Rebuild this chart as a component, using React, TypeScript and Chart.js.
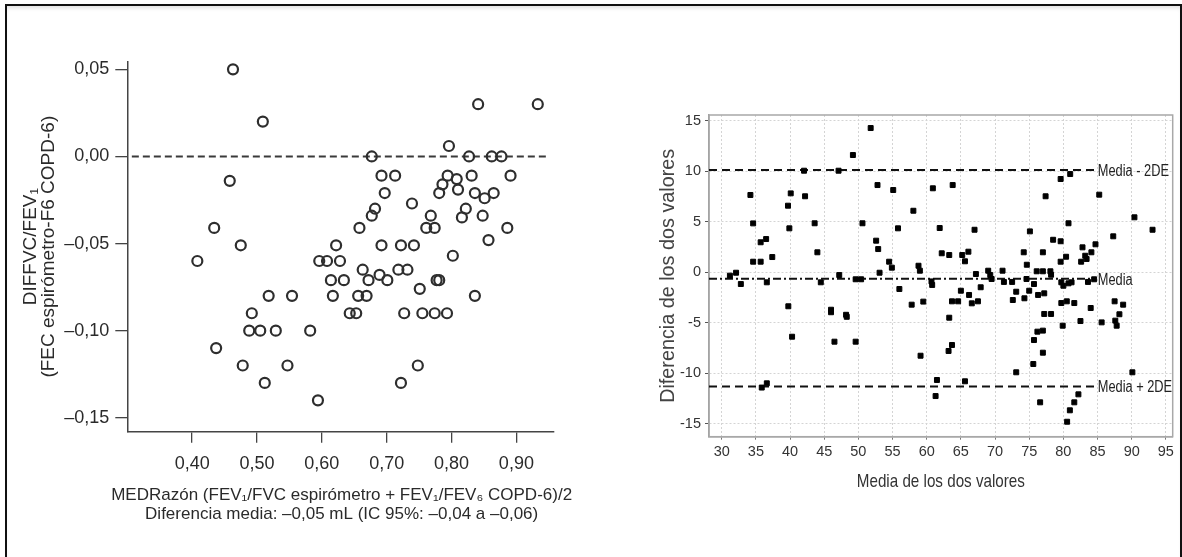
import React, { useEffect, useRef } from 'react';
import { Chart, registerables } from 'chart.js';

Chart.register(...registerables);

// ---------- Left chart (Bland-Altman FEV1/FVC ratio) ----------
const leftX = [
  0.463, 0.509, 0.841, 0.933, 0.458, 0.796,
  0.677, 0.827, 0.862, 0.877,
  0.692, 0.713, 0.794, 0.831, 0.891,
  0.808, 0.786, 0.810,
  0.697, 0.781, 0.836, 0.865,
  0.851, 0.739, 0.682, 0.677, 0.822, 0.768, 0.816, 0.848,
  0.434, 0.658, 0.761, 0.774, 0.886,
  0.857,
  0.475, 0.622, 0.692, 0.722, 0.742,
  0.802,
  0.408, 0.596, 0.608, 0.628,
  0.663, 0.718, 0.732,
  0.614, 0.634, 0.672, 0.689, 0.701, 0.777, 0.781,
  0.751,
  0.518, 0.554, 0.617, 0.656, 0.669, 0.836,
  0.492, 0.643, 0.653, 0.727, 0.755, 0.774, 0.793,
  0.488, 0.505, 0.529, 0.582,
  0.437,
  0.478, 0.547, 0.748,
  0.512, 0.722,
  0.594,
];
const leftY = [
  0.050, 0.020, 0.030, 0.030, -0.014, 0.006,
  0.000, 0.000, 0.000, 0.000,
  -0.011, -0.011, -0.011, -0.011, -0.011,
  -0.013, -0.016, -0.019,
  -0.021, -0.021, -0.021, -0.021,
  -0.024, -0.027, -0.030, -0.034, -0.030, -0.034, -0.035, -0.034,
  -0.041, -0.041, -0.041, -0.041, -0.041,
  -0.048,
  -0.051, -0.051, -0.051, -0.051, -0.051,
  -0.057,
  -0.060, -0.060, -0.060, -0.060,
  -0.065, -0.065, -0.065,
  -0.071, -0.071, -0.071, -0.068, -0.071, -0.071, -0.071,
  -0.076,
  -0.080, -0.080, -0.080, -0.080, -0.080, -0.080,
  -0.090, -0.090, -0.090, -0.090, -0.090, -0.090, -0.090,
  -0.100, -0.100, -0.100, -0.100,
  -0.110,
  -0.120, -0.120, -0.120,
  -0.130, -0.130,
  -0.140,
];
const leftZeroLineX = [0.307, 0.95];
const leftZeroLineY = [0, 0];
const leftXTicks = [0.4, 0.5, 0.6, 0.7, 0.8, 0.9];
const leftXTickLabels = ['0,40', '0,50', '0,60', '0,70', '0,80', '0,90'];
const leftYTicks = [0.05, 0, -0.05, -0.1, -0.15];
const leftYTickLabels = ['0,05', '0,00', '–0,05', '–0,10', '–0,15'];
const leftYTitle = ['DIFFVC/FEV₁', '(FEC espirómetro-F6 COPD-6)'];
const leftXTitle = [
  'MEDRazón (FEV₁/FVC espirómetro + FEV₁/FEV₆ COPD-6)/2',
  'Diferencia media: –0,05 mL (IC 95%: –0,04 a –0,06)',
];

// ---------- Right chart (Bland-Altman, media de los dos valores) ----------
const rightX = [
  31.2, 32.1, 32.8, 34.2, 34.6, 34.6, 35.7, 35.7, 36.5, 36.6, 37.4, 35.86, 36.6,
  39.7, 40.1, 39.9, 39.75, 40.3, 42.05, 42.2, 43.6, 44.0, 44.5, 46.0, 46.0, 46.5,
  47.1, 47.2, 48.2, 48.3, 49.2, 49.6, 50.4, 49.6, 50.6, 51.8, 52.8, 52.6, 52.9,
  53.1, 54.5, 54.9, 55.1, 55.8, 56.0, 57.8, 58.05, 58.8, 59.0, 59.5, 59.1, 60.7,
  60.8, 60.9, 61.9, 61.5, 61.3, 62.2, 63.3, 63.8, 63.3, 63.7, 64.6, 63.2, 63.7,
  65.0, 65.2, 65.6, 66.1, 66.2, 66.6, 67.5, 65.6, 67.0, 67.2, 67.9, 69.0, 69.3,
  69.5, 71.1, 71.3, 72.5, 72.6, 73.1, 73.1, 74.3, 74.2, 74.6, 74.65, 75.0, 75.1,
  75.7, 75.7, 75.6, 76.1, 76.2, 76.3, 76.6, 77.0, 77.0, 77.0, 77.0, 77.2, 77.2,
  77.4, 78.1, 78.2, 78.2, 78.5, 79.6, 79.6, 79.6, 79.7, 80.0, 79.7, 79.9, 80.4,
  80.5, 80.55, 80.75, 80.75, 80.95, 81.0, 81.2, 81.6, 81.6, 82.2, 82.5, 82.6,
  82.8, 83.2, 83.4, 83.6, 84.0, 84.1, 84.5, 84.7, 85.25, 85.6, 87.3, 87.5, 87.6,
  87.8, 88.2, 88.75, 90.1, 90.4, 93.05,
];
const rightY = [
  -0.33, -0.04, -1.16, 7.65, 4.84, 1.05, 2.97, 1.05, 3.29, -0.99, 1.51, -11.4, -10.98,
  6.59, 7.81, 4.35, -3.36, -6.37, 10.05, 7.52, 4.85, 1.98, -0.99, -3.7, -3.95, -6.86,
  10.05, -0.27, -4.2, -4.4, 11.6, -0.69, -0.69, -6.86, 4.85, 14.27, 8.63, 3.13, 2.3,
  -0.04, 1.05, 0.46, 8.14, 4.35, -1.65, -3.2, 6.09, 0.65, 0.16, -2.9, -8.25, -0.9,
  -1.25, 8.31, 4.38, -10.65, -12.24, 1.88, 1.71, 8.63, -4.49, -2.87, -2.87, -7.78, -7.19,
  -1.82, 1.71, 1.09, 2.04, -2.24, -3.07, -2.87, -10.78, 4.21, -0.17, -1.48, 0.16, -0.27,
  -0.66, 0.16, -0.95, -0.95, -2.74, -1.92, -9.89, -2.57, 1.98, -0.66, 0.75, -1.82, 4.05,
  -1.16, -6.7, -9.07, 0.1, -5.87, -2.24, -12.86, 0.1, 1.98, -5.77, -7.95, -2.08, -4.12,
  7.52, 0.1, -0.24, -4.12, 3.22, 3.07, 1.05, 9.23, -0.99, -1.33, -3.04, -5.28, 1.54,
  -2.87, -14.78, 4.85, -1.09, -13.65, 9.72, -0.99, -3.04, -12.86, -12.07, -4.82, 1.05,
  2.47, 1.64, 1.32, -0.95, -3.53, 1.98, -0.69, 2.77, 7.68, -4.95, 3.56, -2.87, -4.78,
  -5.28, -4.15, -3.2, -9.89, 5.44, 4.21,
];
const rightLineX = [28.14, 84.6];
const rightUpperY = [10.12, 10.12];
const rightMeanY = [-0.63, -0.63];
const rightLowerY = [-11.3, -11.3];
const rightRefLabels = ['Media - 2DE', 'Media', 'Media + 2DE'];
const rightXTicks = [30, 35, 40, 45, 50, 55, 60, 65, 70, 75, 80, 85, 90, 95];
const rightXTickLabels = ['30', '35', '40', '45', '50', '55', '60', '65', '70', '75', '80', '85', '90', '95'];
const rightYTicks = [15, 10, 5, 0, -5, -10, -15];
const rightYTickLabels = ['15', '10', '5', '0', '-5', '-10', '-15'];
const rightXTitle = 'Media de los dos valores';
const rightYTitle = 'Diferencia de los dos valores';

const SANS = '"Liberation Sans", Arial, sans-serif';

const toPts = (xs: number[], ys: number[]) => xs.map((x, i) => ({ x, y: ys[i] }));

// Two-line x-axis caption of the left chart (wider than the plot area, as in the source)
const leftXTitlePlugin = {
  id: 'leftXTitle',
  afterDraw(chart: any) {
    const { ctx, chartArea } = chart;
    const cx = (chartArea.left + chartArea.right) / 2 + 1;
    ctx.save();
    ctx.fillStyle = '#2a2a2a';
    ctx.font = `17px ${SANS}`;
    ctx.textAlign = 'center';
    ctx.textBaseline = 'middle';
    leftXTitle.forEach((t, i) => ctx.fillText(t, cx, chartArea.bottom + 63.5 + i * 19.5));
    ctx.restore();
  },
};

function LeftChart() {
  const ref = useRef<HTMLCanvasElement | null>(null);
  useEffect(() => {
    if (!ref.current) return;
    const chart = new Chart(ref.current, {
      type: 'scatter',
      data: {
        datasets: [
          {
            data: toPts(leftX, leftY),
            pointStyle: 'circle',
            pointRadius: 5,
            pointBorderWidth: 2.2,
            pointBorderColor: '#2e2e2e',
            pointBackgroundColor: 'rgba(0,0,0,0)',
          },
          {
            data: toPts(leftZeroLineX, leftZeroLineY),
            showLine: true,
            pointRadius: 0,
            borderColor: '#3a3a3a',
            borderWidth: 2,
            borderDash: [7, 4],
          },
        ],
      },
      options: {
        animation: false,
        responsive: false,
        maintainAspectRatio: false,
        layout: { padding: { left: 0, top: 61.7, right: 46, bottom: 0 } },
        plugins: { legend: { display: false }, tooltip: { enabled: false } },
        scales: {
          x: {
            type: 'linear',
            min: 0.3,
            max: 0.958,
            afterBuildTicks: (s: any) => { s.ticks = leftXTicks.map((v) => ({ value: v })); },
            afterFit: (s: any) => { s.height = 557 - 431.7; },
            grid: { drawOnChartArea: false, drawTicks: true, tickLength: 11, color: '#444', lineWidth: 1.3 },
            border: { display: true, color: '#444', width: 1.5 },
            ticks: {
              autoSkip: false,
              maxRotation: 0,
              padding: 11,
              color: '#2a2a2a',
              font: { family: SANS, size: 18 },
              callback: (v: any) => {
                const i = leftXTicks.findIndex((t) => Math.abs(t - v) < 1e-9);
                return i >= 0 ? leftXTickLabels[i] : '';
              },
            },
            title: { display: false },
          },
          y: {
            type: 'linear',
            min: -0.158,
            max: 0.0544,
            afterBuildTicks: (s: any) => { s.ticks = leftYTicks.map((v) => ({ value: v })); },
            afterFit: (s: any) => { s.width = 127.3; },
            grid: { drawOnChartArea: false, drawTicks: true, tickLength: 12, color: '#444', lineWidth: 1.3 },
            border: { display: true, color: '#444', width: 1.5 },
            ticks: {
              autoSkip: false,
              padding: 6,
              color: '#2a2a2a',
              font: { family: SANS, size: 18 },
              callback: (v: any) => {
                const i = leftYTicks.findIndex((t) => Math.abs(t - v) < 1e-9);
                return i >= 0 ? leftYTickLabels[i] : '';
              },
            },
            title: {
              display: true,
              text: leftYTitle,
              color: '#2a2a2a',
              font: { family: SANS, size: 19, lineHeight: 0.92 },
              padding: { top: 22.3, bottom: 0 },
            },
          },
        },
      },
      plugins: [leftXTitlePlugin],
    });
    return () => chart.destroy();
  }, []);
  return <canvas ref={ref} width={600} height={557} style={{ position: 'absolute', left: 0, top: 0, width: 600, height: 557 }} />;
}

const drawNarrow = (ctx: any, text: string, x: number, y: number, size: number, align: string) => {
  ctx.save();
  ctx.font = `${size}px ${SANS}`;
  ctx.textAlign = align;
  ctx.textBaseline = 'middle';
  ctx.translate(x, y);
  ctx.scale(0.8, 1);
  ctx.fillText(text, 0, 0);
  ctx.restore();
};

const rightDecor = {
  id: 'rightDecor',
  beforeDatasetsDraw(chart: any) {
    const { ctx, chartArea } = chart;
    ctx.save();
    ctx.strokeStyle = '#a8a8a8';
    ctx.lineWidth = 1.5;
    ctx.strokeRect(chartArea.left, chartArea.top, chartArea.right - chartArea.left, chartArea.bottom - chartArea.top);
    ctx.restore();
  },
  afterDatasetsDraw(chart: any) {
    const { ctx, chartArea } = chart;
    ctx.save();
    ctx.fillStyle = '#222';
    rightRefLabels.forEach((label, i) => {
      const meta = chart.getDatasetMeta(i + 1);
      const pt = meta.data[meta.data.length - 1];
      if (pt) drawNarrow(ctx, label, pt.x + 3, pt.y + 1.5, 16, 'left');
    });
    ctx.fillStyle = '#333';
    drawNarrow(ctx, rightXTitle, (chartArea.left + chartArea.right) / 2, chartArea.bottom + 45, 19, 'center');
    ctx.restore();
  },
};

function RightChart() {
  const ref = useRef<HTMLCanvasElement | null>(null);
  useEffect(() => {
    if (!ref.current) return;
    const refLine = (ys: number[], dash: number[]) => ({
      data: toPts(rightLineX, ys),
      showLine: true,
      pointRadius: 0,
      borderColor: '#111',
      borderWidth: 2,
      borderDash: dash,
    });
    const chart = new Chart(ref.current, {
      type: 'scatter',
      data: {
        datasets: [
          {
            data: toPts(rightX, rightY),
            pointStyle: 'rect',
            pointRadius: 3.5,
            pointBorderWidth: 1,
            pointBorderColor: '#000',
            pointBackgroundColor: '#000',
          },
          refLine(rightUpperY, [8, 5]),
          refLine(rightMeanY, [8, 3, 2, 3]),
          refLine(rightLowerY, [8, 5]),
        ],
      },
      options: {
        animation: false,
        responsive: false,
        maintainAspectRatio: false,
        layout: { padding: { left: 0, top: 115, right: 9.3, bottom: 0 } },
        plugins: { legend: { display: false }, tooltip: { enabled: false } },
        scales: {
          x: {
            type: 'linear',
            min: 28.14,
            max: 96.0,
            afterBuildTicks: (s: any) => { s.ticks = rightXTicks.map((v) => ({ value: v })); },
            afterFit: (s: any) => { s.height = 557 - 436.7; },
            grid: { color: '#d4d4d4', lineWidth: 1, drawTicks: true, tickLength: 3, tickColor: '#777' },
            border: { display: true, color: '#9a9a9a', width: 1.5, dash: [2, 2] },
            ticks: {
              autoSkip: false,
              maxRotation: 0,
              padding: 4,
              color: '#333',
              font: { family: SANS, size: 14.5 },
              callback: (v: any) => {
                const i = rightXTicks.findIndex((t) => Math.abs(t - v) < 1e-9);
                return i >= 0 ? rightXTickLabels[i] : '';
              },
            },
            title: { display: false },
          },
          y: {
            type: 'linear',
            min: -16.26,
            max: 15.56,
            afterBuildTicks: (s: any) => { s.ticks = rightYTicks.map((v) => ({ value: v })); },
            afterFit: (s: any) => { s.width = 109; },
            grid: { color: '#d4d4d4', lineWidth: 1, drawTicks: true, tickLength: 4, tickColor: '#555' },
            border: { display: true, color: '#9a9a9a', width: 1.5, dash: [2, 2] },
            ticks: {
              autoSkip: false,
              padding: 4,
              color: '#333',
              font: { family: SANS, size: 14.5 },
              callback: (v: any) => {
                const i = rightYTicks.findIndex((t) => Math.abs(t - v) < 1e-9);
                return i >= 0 ? rightYTickLabels[i] : '';
              },
            },
            title: {
              display: true,
              text: rightYTitle,
              color: '#444',
              font: { family: SANS, size: 19.8, lineHeight: 1 },
              padding: { top: 59, bottom: 0 },
            },
          },
        },
      },
      plugins: [rightDecor],
    });
    return () => chart.destroy();
  }, []);
  return <canvas ref={ref} width={582} height={557} style={{ position: 'absolute', left: 600, top: 0, width: 582, height: 557 }} />;
}

export default function App() {
  return (
    <div style={{ position: 'fixed', left: 0, top: 0, width: 1182, height: 557, background: '#fff', overflow: 'hidden' }}>
      <LeftChart />
      <RightChart />
      <div
        style={{
          position: 'absolute',
          left: 5,
          top: 4,
          width: 1173,
          height: 600,
          borderTop: '2px solid #111',
          borderLeft: '2px solid #111',
          borderRight: '2px solid #111',
          boxShadow: 'inset 0 4px 4px -2px rgba(0,0,0,0.12)',
          pointerEvents: 'none',
        }}
      />
    </div>
  );
}
